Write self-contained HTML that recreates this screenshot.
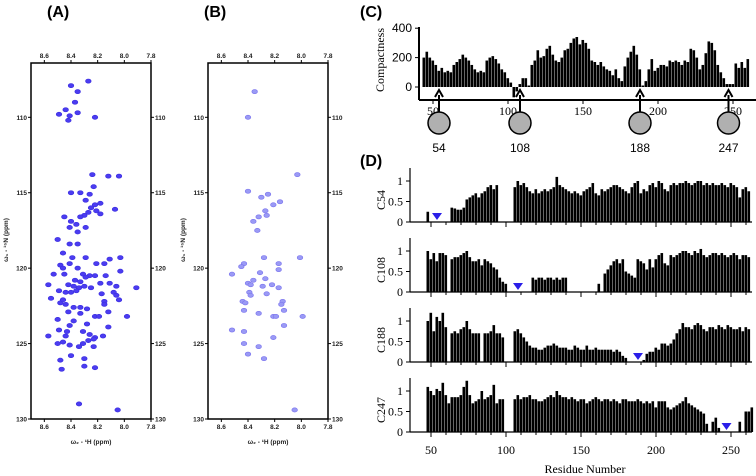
<!DOCTYPE html>
<html><head><meta charset="utf-8"><style>
html,body{margin:0;padding:0;background:#fff;width:756px;height:476px;overflow:hidden}
svg{display:block}
.t{font-family:"Liberation Sans",sans-serif;font-weight:bold;font-size:16px}
.tk{font-family:"Liberation Sans",sans-serif;font-weight:bold;font-size:6.5px;fill:#222}
.sr{font-family:"Liberation Serif",serif;font-size:12px}
.ss{font-family:"Liberation Sans",sans-serif;font-size:12px}
</style></head><body>
<svg id="fig" width="756" height="476" viewBox="0 0 756 476" xmlns="http://www.w3.org/2000/svg">
<text class="t" x="47" y="17">(A)</text>
<text class="t" x="204" y="17">(B)</text>
<text class="t" x="360" y="17">(C)</text>
<text class="t" x="360" y="166">(D)</text>
<g id="nmrA"></g>
<g id="nmrB"></g>
<g id="compC"></g>
<g id="pareD"></g>
</svg>
<script>
// ---- NMR peak data [1H ppm, 15N ppm]
const peaksA=[[8.40,107.9],[8.27,107.6],[8.35,108.3],[8.37,109.0],[8.44,109.5],[8.35,109.7],[8.49,109.8],[8.41,109.9],[8.42,110.2],[8.22,110.0],
[8.24,113.8],[8.12,113.9],[8.04,113.9],[8.23,114.6],[8.40,115.0],[8.33,115.0],[8.26,115.1],[8.29,115.5],[8.18,115.7],[8.22,115.8],[8.25,116.0],[8.21,116.2],[8.27,116.3],[8.30,116.5],[8.33,116.6],[8.45,116.6],[8.07,116.1],[8.18,116.4],[8.40,116.9],[8.36,117.1],[8.41,117.3],[8.29,117.3],[8.35,117.6],[8.50,118.1],[8.41,118.4],[8.35,118.4],[8.46,119.0],[8.29,119.3],[8.39,119.3],[8.03,119.3],[8.11,119.4],[8.21,119.7],[8.15,119.7],[8.48,119.8],[8.41,119.7],[8.46,120.0],[8.35,120.0],[8.03,120.2],[8.53,120.4],[8.45,120.4],[8.31,120.4],[8.26,120.5],[8.22,120.5],[8.14,120.5],[8.37,120.8],[8.33,120.9],[8.29,120.6],[8.57,121.1],[8.42,121.1],[8.38,121.2],[8.34,121.3],[8.30,121.2],[8.25,121.3],[8.18,121.0],[8.11,121.0],[8.06,121.2],[7.91,121.3],[8.44,121.6],[8.40,121.6],[8.36,121.5],[8.49,121.5],[8.55,122.0],[8.17,121.7],[8.08,121.6],[8.06,121.8],[8.04,122.1],[8.48,122.3],[8.44,122.4],[8.46,122.1],[8.38,122.6],[8.33,122.6],[8.28,122.7],[8.15,122.2],[8.15,122.4],[8.42,122.9],[8.33,123.0],[8.12,122.9],[8.22,123.2],[8.19,123.2],[7.98,123.2],[8.50,123.4],[8.38,123.5],[8.28,123.7],[8.41,123.8],[8.12,123.9],[8.49,124.1],[8.43,124.2],[8.44,124.5],[8.31,124.2],[8.26,124.4],[8.22,124.6],[8.57,124.5],[8.46,124.9],[8.16,124.5],[8.31,125.0],[8.27,124.8],[8.23,124.7],[8.50,125.0],[8.41,125.1],[8.34,125.2],[8.23,125.2],[8.40,125.8],[8.30,126.0],[8.48,126.1],[8.30,126.5],[8.22,126.6],[8.47,126.7],[8.34,129.0],[8.05,129.4]];
const peaksB=[[8.35,108.3],[8.40,110.0],[8.03,113.8],[8.40,114.9],[8.25,115.1],[8.30,115.3],[8.16,115.6],[8.21,115.8],[8.27,116.2],[8.26,116.5],[8.32,116.6],[8.36,116.9],[8.33,117.5],[8.28,119.3],[8.01,119.3],[8.17,119.7],[8.43,119.7],[8.45,119.9],[8.17,120.1],[8.52,120.4],[8.31,120.3],[8.36,120.8],[8.27,120.7],[8.40,121.0],[8.38,121.1],[8.22,121.1],[8.29,121.2],[8.17,121.3],[8.39,121.6],[8.38,121.8],[8.26,121.7],[8.44,122.2],[8.42,122.3],[8.14,122.2],[8.15,122.4],[8.43,122.8],[8.32,123.0],[8.13,122.8],[8.21,123.2],[8.19,123.2],[7.99,123.2],[8.13,123.8],[8.52,124.1],[8.43,124.2],[8.21,124.6],[8.43,125.0],[8.32,125.2],[8.40,125.7],[8.28,126.0],[8.05,129.4]];
const hTicks=[8.6,8.4,8.2,8.0,7.8];
const nTicks=[110,115,120,125,130];
// ---- Compactness (residue start 44, step 2)
const compStart=44;
const compactness=[200,240,200,180,150,110,130,100,110,100,150,170,190,220,200,180,150,120,100,110,100,180,200,210,190,160,120,100,60,30,-70,-30,20,60,60,10,150,180,250,200,210,260,280,220,180,170,200,250,260,300,330,340,290,320,300,260,180,170,150,170,140,120,110,80,120,60,40,140,200,240,280,220,120,10,40,120,190,110,130,150,150,140,180,170,180,170,150,180,170,260,250,200,120,150,230,310,300,250,150,100,60,20,20,20,160,130,170,130,190];
const compTicks=[50,100,150,200,250];
const compYTicks=[0,200,400];
const sites=[54,108,188,247];
// ---- PRE ratios (residue start 48, step 2)
const preStart=48;
const c54=[.25,0,0,0,0,0,0,0,.35,.33,.3,.3,.35,.55,.6,.65,.7,.6,.7,.75,.85,.9,.8,.9,0,0,0,0,0,.85,1.0,.9,.95,.85,.75,.7,.8,.7,.75,.8,.75,.8,.85,1.1,.9,.85,.8,.75,.7,.75,.7,.65,.75,.8,.85,.95,.7,.65,.8,.75,.8,.85,.9,.9,.85,.8,.75,.7,.85,.95,1.0,.7,.8,.75,.9,.95,.85,1.0,.95,.8,.75,.9,.95,.9,.95,.95,1.0,.95,.9,.95,1.0,1.0,.9,.95,.9,.95,.9,.9,.95,.9,.85,.95,.9,.85,.6,.8,.85,.75,0];
const c108=[1.0,.8,.95,.75,.95,.95,.9,0,.8,.85,.85,.9,.95,1.0,.85,.75,.75,.8,.65,.8,.75,.7,.6,.55,.35,.25,.2,0,0,0,0,0,0,0,0,.35,.3,.35,.35,.3,.35,.35,.3,.35,.3,.35,.35,0,0,0,0,0,0,0,0,0,0,.2,0,.45,.55,.65,.75,.8,.7,.8,.5,.45,.4,.35,.8,.75,.7,.55,.8,.6,.8,.9,.95,.7,.65,.9,.85,.9,.95,1.0,1.0,.95,.9,1.0,.95,1.05,.9,.85,.9,.95,.95,.9,.95,.9,.85,.9,.95,.9,.8,.9,.9,.85,0];
const c188=[1.0,1.2,.75,1.1,1.0,1.2,.85,0,.7,.75,.7,.8,.85,1.0,.8,.7,.7,.7,0,.7,.7,.75,.9,.7,.7,.6,0,0,0,.75,.8,.7,.6,.5,.4,.35,.35,.3,.3,.35,.4,.4,.45,.4,.35,.35,.35,.3,.3,.4,.35,.3,.3,.4,.3,.3,.35,.3,.3,.3,.3,.3,.25,.3,.25,.15,.1,0,0,0,0,0,.05,.2,.25,.25,.35,.3,.45,.45,.4,.45,.55,.7,.8,.95,.85,.85,.8,.9,.95,.9,.8,.75,.85,.85,.8,.9,.85,.8,.9,.85,.8,.8,.85,.75,.85,.8,0];
const c247=[1.1,1.0,.9,1.05,1.0,1.2,.9,.7,.85,.85,.85,.9,1.1,1.25,.9,.7,.75,.8,1.0,.8,.85,.9,1.15,.7,.8,.8,0,0,0,.8,.9,.8,.85,.85,.9,.8,.8,.75,.75,.8,.85,.9,.85,1.0,.9,.85,.85,.8,.85,.8,.75,.8,.8,.7,.75,.8,.85,.8,.75,.8,.8,.75,.8,.75,.7,.8,.8,.75,.75,.75,.8,.75,.7,.75,.7,.75,.6,.75,.75,.75,.6,.55,.6,.65,.7,.75,.85,.7,.65,.6,.55,.5,.45,.2,0,.25,.35,.1,0,0,0,0,0,0,.25,0,.5,.5,.6];
const preLabels=["C54","C108","C188","C247"];
const preTicks=[50,100,150,200,250];
const preYTicks=[0,0.5,1];

const NS="http://www.w3.org/2000/svg";
function mk(tag,attrs,parent){const e=document.createElementNS(NS,tag);for(const k in attrs)e.setAttribute(k,attrs[k]);parent.appendChild(e);return e;}

function nmr(g,x0,peaks,ring){
  const x1=x0+120,y0=63,y1=419;
  const hx=h=>x0+(8.7-h)/0.9*120;
  const ny=n=>y0+(n-106.4)/(130-106.4)*(y1-y0);
  const fr=mk('rect',{x:x0,y:y0,width:120,height:y1-y0,fill:'none',stroke:'#000','stroke-width':1.5},g);
  
  
  hTicks.forEach(h=>{
    const x=hx(h);
    mk('line',{x1:x,x2:x,y1:y0,y2:y0-3,stroke:'#000'},g);
    mk('line',{x1:x,x2:x,y1:y1,y2:y1+3,stroke:'#000'},g);
    const a=mk('text',{x:x,y:y0-5,'text-anchor':'middle',class:'tk'},g);a.textContent=h.toFixed(1);
    
    
    const b=mk('text',{x:x,y:y1+10,'text-anchor':'middle',class:'tk'},g);b.textContent=h.toFixed(1);
    
    
  });
  nTicks.forEach(n=>{
    const y=ny(n);
    mk('line',{x1:x0,x2:x0-3,y1:y,y2:y,stroke:'#000'},g);
    mk('line',{x1:x1,x2:x1+3,y1:y,y2:y,stroke:'#000'},g);
    const a=mk('text',{x:x0-4,y:y+2.5,'text-anchor':'end',class:'tk'},g);a.textContent=n;
    
    
    const b=mk('text',{x:x1+4,y:y+2.5,class:'tk'},g);b.textContent=n;
    
    
  });
  peaks.forEach(p=>{
    const e=mk('ellipse',{cx:hx(p[0]),cy:ny(p[1]),rx:2.8,ry:2.1,fill:ring?'#9a9af5':'#4b3cf0',stroke:ring?'#7b74ee':'#3a2de0','stroke-width':0.6},g);
    
    
  });
  const xl=mk('text',{x:x0+60,y:444,'text-anchor':'middle',class:'tk'},g);xl.textContent='ω₂ - ¹H (ppm)';
  
  
  const yl=mk('text',{x:0,y:0,'text-anchor':'middle',class:'tk',transform:`translate(${x0-23},240) rotate(-90)`},g);yl.textContent='ω₁ - ¹⁵N (ppm)';
  
  
}
nmr(document.getElementById('nmrA'),31,peaksA,false);
nmr(document.getElementById('nmrB'),208,peaksB,true);

function peaksBars(vals,start,rx,vy,g,name){
  vals.forEach((v,i)=>{
    if(v===0)return;
    const r=start+2*i, x=rx(r)-1.5, y0=vy(0), y=vy(v);
    const b=mk('rect',{x:x,y:Math.min(y,y0),width:2.6,height:Math.abs(y0-y),fill:'#000'},g);
    
    
  });
}

(function(){
  const g=document.getElementById('compC');
  const rx=r=>433+(r-50)*1.5;
  const vy=v=>87-v*0.147;
  peaksBars(compactness,compStart,rx,vy,g,'compactness-bar');
  mk('line',{x1:419,x2:419,y1:27,y2:100,stroke:'#000','stroke-width':2},g);
  mk('line',{x1:419,x2:756,y1:100,y2:100,stroke:'#000','stroke-width':2},g);
  compYTicks.forEach(v=>{
    mk('line',{x1:415,x2:419,y1:vy(v),y2:vy(v),stroke:'#000'},g);
    const t=mk('text',{x:412,y:vy(v)+4,'text-anchor':'end',class:'ss','font-size':'11'},g);t.textContent=v;
    
    
  });
  compTicks.forEach(r=>{
    mk('line',{x1:rx(r),x2:rx(r),y1:100,y2:104,stroke:'#000'},g);
    const t=mk('text',{x:rx(r),y:115,'text-anchor':'middle',class:'sr'},g);t.textContent=r;
    
    
  });
  const yl=mk('text',{x:0,y:0,'text-anchor':'middle',class:'sr','font-size':'13',transform:'translate(384,60) rotate(-90)'},g);yl.textContent='Compactness';
  
  
  sites.forEach(s=>{
    const x=rx(s);
    mk('line',{x1:x,x2:x,y1:112,y2:95,stroke:'#000','stroke-width':2},g);
    mk('path',{d:`M${x-4},${97} L${x},${90} L${x+4},${97}`,fill:'none',stroke:'#000','stroke-width':2},g);
    const c=mk('circle',{cx:x,cy:123,r:11,fill:'#b0b0b0',stroke:'#000','stroke-width':1.5},g);
    
    
    const t=mk('text',{x:x,y:152,'text-anchor':'middle',class:'ss','font-size':s==54?13:11},g);t.textContent=s;
    
    
  });
})();

(function(){
  const g=document.getElementById('pareD');
  const rx=r=>431+(r-50)*1.5;
  const series=[c54,c108,c188,c247];
  const zeros=[222,292,362,432];
  series.forEach((s,k)=>{
    const z=zeros[k];
    const vy=v=>z-v*41;
    peaksBars(s,preStart,rx,vy,g,'pre-bar-'+preLabels[k].toLowerCase());
    mk('line',{x1:410,x2:410,y1:z-54,y2:z,stroke:'#000','stroke-width':1.2},g);
    mk('line',{x1:410,x2:752,y1:z,y2:z,stroke:'#000','stroke-width':1.2},g);
    preYTicks.forEach(v=>{
      mk('line',{x1:406,x2:410,y1:vy(v),y2:vy(v),stroke:'#000'},g);
      const t=mk('text',{x:403,y:vy(v)+4,'text-anchor':'end',class:'sr','font-size':'11'},g);t.textContent=v;
      
      
    });
    for(let r=50;r<=260;r+=10){mk('line',{x1:rx(r),x2:rx(r),y1:z,y2:z+(r%50==0?5:3),stroke:'#000'},g);}
    const lab=mk('text',{x:0,y:0,'text-anchor':'middle',class:'sr',transform:`translate(385,${z-22}) rotate(-90)`},g);lab.textContent=preLabels[k];
    
    
    const site=sites[k], mx=rx(site);
    const m=mk('path',{d:`M${mx-5},${z-9} L${mx+5},${z-9} L${mx},${z-2} Z`,fill:'#2a1ee8'},g);
    
    
  });
  preTicks.forEach(r=>{
    const t=mk('text',{x:rx(r),y:454,'text-anchor':'middle',class:'sr'},g);t.textContent=r;
    
    
  });
  const xl=mk('text',{x:585,y:473,'text-anchor':'middle',class:'sr','font-size':'13'},g);xl.textContent='Residue Number';
  
  
})();
</script>
</body></html>
